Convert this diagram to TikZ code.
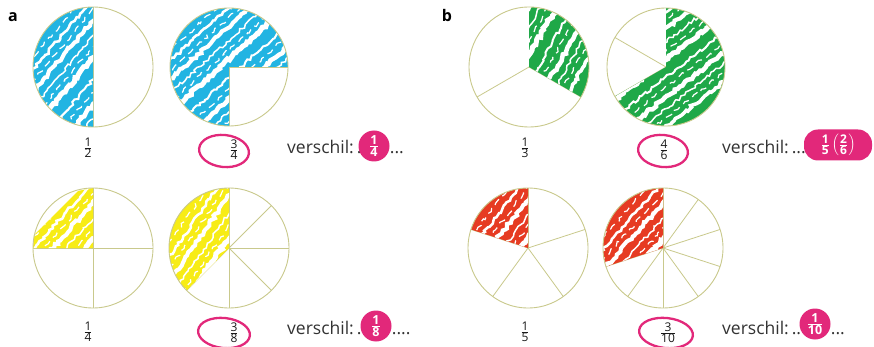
\documentclass[tikz,border=0pt]{standalone}
\usepackage{amsmath}
\usepackage{fontspec}
\setmainfont{Open Sans}
\usetikzlibrary{decorations.pathmorphing}
\definecolor{cy}{HTML}{22B4E2}
\definecolor{gr}{HTML}{1FA848}
\definecolor{ye}{HTML}{F7EC16}
\definecolor{rd}{HTML}{E63B22}
\definecolor{pk}{HTML}{E2287A}
\definecolor{rim}{HTML}{C9C98C}
\newcommand\fr[2]{$\genfrac{}{}{0.6pt}{1}{\mbox{#1}}{\mbox{#2}}$}
\newcommand\streaks[1]{%
  \begin{scope}[rotate=-#1]
  \foreach \o/\w in {-47/3.5,-33/1.5,-24/4.5,-8/2,6/5,20/1.5,30/4,44/2.5}{
    \draw[streak, line width=\w pt] (-75,\o) -- (75,\o);
  }
  \foreach \o in {-40,-16,13,37,52}{
    \draw[streak, line width=1.2pt, dash pattern=on 7pt off 5pt] (-75,\o) -- (75,\o);
  }
  \end{scope}}
\begin{document}
\begin{tikzpicture}[x=1pt,y=-1pt,
  rimline/.style={draw=rim, line width=0.9pt},
  divline/.style={draw=rim, line width=0.8pt},
  streak/.style={white, decorate, decoration={random steps, segment length=3pt, amplitude=1.5pt}},
  frac/.style={font=\fontsize{12}{13}\selectfont, inner sep=0pt, text=black!90},
  ring/.style={draw=pk, line width=2.3pt},
  lbl/.style={font=\fontsize{17.5}{19}\selectfont, inner sep=0pt, text=black!80},
  badge/.style={circle, fill=pk, text=white, inner sep=0pt, minimum size=31pt, font=\bfseries\fontsize{12.5}{13}\selectfont},
  panel/.style={font=\bfseries\fontsize{16}{18}\selectfont, inner sep=0pt}]
\pgfmathsetseed{7}
\useasboundingbox (0,0) rectangle (874,347);
\fill[white] (0,0) rectangle (874,347);

\node[panel] (pa) at (13,17) {a};
\node[panel] (pb) at (447,16) {b};

% a1: 1/2
\begin{scope}[shift={(93,67)},yscale=-1]
  \draw[divline] (90:60) -- (270:60);
  \begin{scope}
    \clip (0,0) -- (90:60) arc[start angle=90,end angle=270,radius=60] -- cycle;
    \fill[cy] (-61,-61) rectangle (61,61);
    \streaks{50}
  \end{scope}
  \draw[rimline] (0,0) circle[radius=60];
\end{scope}

% a2: 3/4
\begin{scope}[shift={(229,67)},yscale=-1]
  \foreach \a in {0,90,180,270} \draw[divline] (0,0) -- (\a:59);
  \begin{scope}
    \clip (0,0) -- (0:59) arc[start angle=0,end angle=270,radius=59] -- cycle;
    \fill[cy] (-60,-60) rectangle (60,60);
    \streaks{42}
  \end{scope}
  \draw[rimline] (0,0) circle[radius=59];
\end{scope}

% a3: 1/4
\begin{scope}[shift={(93,248)},yscale=-1]
  \draw[divline] (90:60) -- (270:60) (0:60) -- (180:60);
  \begin{scope}
    \clip (0,0) -- (0,60) -- (-15,57) -- (-59,13) -- (-60,0) -- cycle;
    \fill[ye] (-61,-61) rectangle (61,61);
    \streaks{48}
  \end{scope}
  \draw[rimline] (0,0) circle[radius=60];
\end{scope}

% a4: 3/8
\begin{scope}[shift={(229,248)},yscale=-1]
  \foreach \a in {0,45,...,315} \draw[divline] (0,0) -- (\a:60);
  \begin{scope}
    \clip (0,0) -- (90:60) arc[start angle=90,end angle=225,radius=60] -- cycle;
    \fill[ye] (-61,-61) rectangle (61,61);
    \streaks{55}
  \end{scope}
  \draw[rimline] (0,0) circle[radius=60];
\end{scope}

% b1: 1/3
\begin{scope}[shift={(529,67)},yscale=-1]
  \foreach \a in {90,210,330} \draw[divline] (0,0) -- (\a:60);
  \begin{scope}
    \clip (0,0) -- (-30:60) arc[start angle=-30,end angle=90,radius=60] -- cycle;
    \fill[gr] (-61,-61) rectangle (61,61);
    \streaks{60}
  \end{scope}
  \draw[rimline] (0,0) circle[radius=60];
\end{scope}

% b2: 4/6
\begin{scope}[shift={(666,67)},yscale=-1]
  \foreach \a in {30,90,...,330} \draw[divline] (0,0) -- (\a:59);
  \begin{scope}
    \clip (0,0) -- (-150:59) arc[start angle=-150,end angle=90,radius=59] -- cycle;
    \fill[gr] (-60,-60) rectangle (60,60);
    \streaks{38}
  \end{scope}
  \draw[rimline] (0,0) circle[radius=59];
\end{scope}

% b3: 1/5
\begin{scope}[shift={(528,248)},yscale=-1]
  \foreach \a in {18,90,162,234,306} \draw[divline] (0,0) -- (\a:60);
  \begin{scope}
    \clip (0,0) -- (90:60) arc[start angle=90,end angle=162,radius=60] -- cycle;
    \fill[rd] (-61,-61) rectangle (61,61);
    \streaks{52}
  \end{scope}
  \draw[rimline] (0,0) circle[radius=60];
\end{scope}

% b4: 3/10
\begin{scope}[shift={(663,248)},yscale=-1]
  \foreach \a in {18,54,...,342} \draw[divline] (0,0) -- (\a:60);
  \begin{scope}
    \clip (0,0) -- (90:60) arc[start angle=90,end angle=198,radius=60] -- cycle;
    \fill[rd] (-61,-61) rectangle (61,61);
    \streaks{48}
  \end{scope}
  \draw[rimline] (0,0) circle[radius=60];
\end{scope}

% fractions
\node[frac] (f12) at (88,148) {\fr{1}{2}};
\node[frac] (f34) at (234,150) {\fr{3}{4}};
\draw[ring,rotate around={-6:(224,151)}] (224,151) ellipse[x radius=25, y radius=16];
\node[frac] (f14) at (88,332) {\fr{1}{4}};
\node[frac] (f38) at (234,333) {\fr{3}{8}};
\draw[ring,rotate around={-6:(224,333)}] (224,333) ellipse[x radius=26, y radius=15];
\node[frac] (f13) at (525,148) {\fr{1}{3}};
\node[frac] (f46) at (664,150) {\fr{4}{6}};
\draw[ring,rotate around={-6:(663,151)}] (663,151) ellipse[x radius=25, y radius=16];
\node[frac] (f15) at (525,332) {\fr{1}{5}};
\node[frac] (f310) at (668,333) {\fr{3}{10}};
\draw[ring,rotate around={-6:(666,333)}] (666,333) ellipse[x radius=27, y radius=15];

% verschil labels
\node[lbl, anchor=west] (v1) at (287,147) {verschil:\,.};
\node[badge] (d1) at (374,146) {\fr{1}{4}};
\node[lbl, anchor=base west] (e1) at (d1.east |- v1.base) {...};
\node[lbl, anchor=west] (v2) at (287,328) {verschil:\,.};
\node[badge] (d2) at (376,326) {\fr{1}{8}};
\node[lbl, anchor=base west] (e2) at (d2.east |- v2.base) {....};
\node[lbl, anchor=west] (v3) at (722,147) {verschil:\,...};
\node[fill=pk, text=white, rounded corners=14pt, minimum width=68pt, minimum height=31pt, inner sep=0pt, font=\bfseries\fontsize{12}{13}\selectfont] (d3) at (838,145) {\fr{1}{5}\,$\left(\mbox{\fr{2}{6}}\right)$};
\node[lbl, anchor=west] (v4) at (722,328) {verschil:\,..};
\node[badge] (d4) at (815,324) {\fr{1}{10}};
\node[lbl, anchor=base west] (e4) at (d4.east |- v4.base) {...};
\end{tikzpicture}
\end{document}
